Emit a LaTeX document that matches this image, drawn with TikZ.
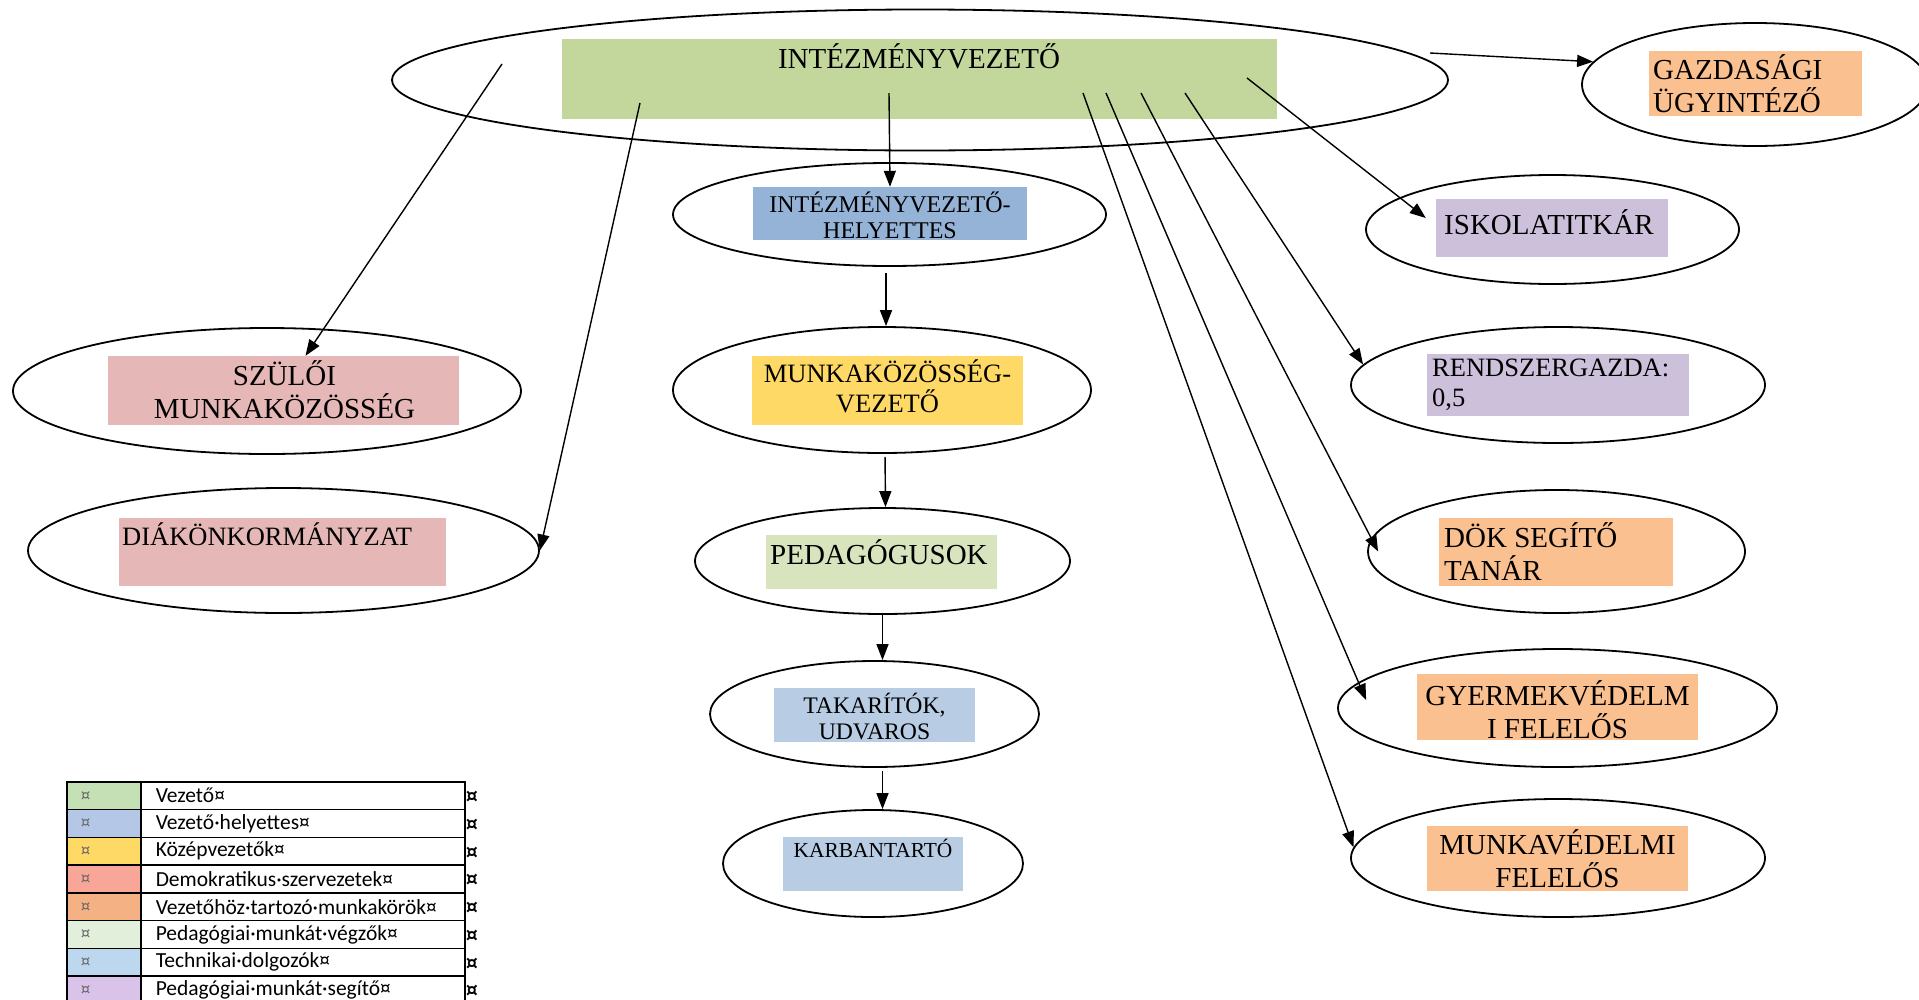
\documentclass[tikz,border=0pt]{standalone}
\usepackage{fontspec}
\setmainfont{Liberation Serif}
\newfontfamily\legendfont{Carlito}
\newfontfamily\markfont{DejaVu Sans}
\usetikzlibrary{arrows.meta,shapes.geometric,calc}
\definecolor{leaf}{HTML}{C3D69B}
\definecolor{steel}{HTML}{95B3D7}
\definecolor{sun}{HTML}{FFD966}
\definecolor{rose}{HTML}{E5B8B7}
\definecolor{peach}{HTML}{FAC08F}
\definecolor{sage}{HTML}{D7E4BD}
\definecolor{mist}{HTML}{B8CCE4}
\definecolor{lilac}{HTML}{CCC0DA}
\definecolor{kLeaf}{HTML}{C5E0B4}
\definecolor{kSteel}{HTML}{B4C7E7}
\definecolor{kSun}{HTML}{FFD966}
\definecolor{kCoral}{HTML}{F8A698}
\definecolor{kPeach}{HTML}{F4B183}
\definecolor{kSage}{HTML}{E2EFDA}
\definecolor{kMist}{HTML}{BDD7EE}
\definecolor{kLilac}{HTML}{D9C3E9}
\tikzset{
  arr/.style={-{Triangle[length=16pt,width=12pt]},line width=1.4pt},
  oval/.style={ellipse,draw,line width=1.8pt,inner sep=0pt},
  card/.style={fill=#1,inner sep=0pt},
  card/.default=leaf,
  txt/.style={inner sep=0pt,align=center},
  big/.style={font=\fontsize{29}{33}\selectfont},
  mid/.style={font=\fontsize{26.5}{30}\selectfont},
  small/.style={font=\fontsize{24}{26}\selectfont},
  swatch/.style={draw,line width=1.5pt,anchor=north west,minimum height=27.75pt,
    inner xsep=14pt,text width=46pt,align=left,text=black!60,
    font=\markfont\fontsize{15}{17}\selectfont},
  entry/.style={draw,line width=1.5pt,anchor=north west,minimum height=27.75pt,
    inner xsep=15pt,text width=294pt,align=left,
    font=\legendfont\fontsize{21.5}{24}\selectfont},
  endmark/.style={inner sep=0pt,font=\markfont\bfseries\fontsize{19}{21}\selectfont},
}
\begin{document}
\begin{tikzpicture}[x=1pt,y=-1pt]
  \useasboundingbox (0,0) rectangle (1919,999);
  % ellipses
  \node[oval,minimum width=1056pt,minimum height=141pt] (topE) at (920,80) {};
  \node[oval,minimum width=346pt,minimum height=123pt] (gzE) at (1755,84.5) {};
  \node[oval,minimum width=433pt,minimum height=103pt] (ihE) at (889.5,214.5) {};
  \node[oval,minimum width=418pt,minimum height=126pt] (muE) at (882,390) {};
  \node[oval,minimum width=375pt,minimum height=106pt] (peE) at (882.5,561) {};
  \node[oval,minimum width=329pt,minimum height=106pt] (taE) at (874.5,714) {};
  \node[oval,minimum width=300pt,minimum height=107pt] (kaE) at (873,863.5) {};
  \node[oval,minimum width=508pt,minimum height=126pt] (szE) at (267,391) {};
  \node[oval,minimum width=511pt,minimum height=125pt] (dkE) at (283.5,550.5) {};
  \node[oval,minimum width=373pt,minimum height=109pt] (isE) at (1552.5,229.5) {};
  \node[oval,minimum width=414pt,minimum height=116pt] (rgE) at (1558,385) {};
  \node[oval,minimum width=377pt,minimum height=123pt] (dtE) at (1556.5,551.5) {};
  \node[oval,minimum width=439pt,minimum height=118pt] (gvE) at (1557.5,708) {};
  \node[oval,minimum width=414pt,minimum height=118pt] (mvE) at (1558,858) {};
  % coloured boxes
  \node[card=leaf,minimum width=715pt,minimum height=80pt] (topL) at (919.5,79) {};
  \node[card=peach,minimum width=213pt,minimum height=65pt] (gzL) at (1755.5,83.5) {};
  \node[card=steel,minimum width=274pt,minimum height=53pt] (ihL) at (890,213.5) {};
  \node[card=sun,minimum width=271pt,minimum height=69pt] (muL) at (887.5,390.5) {};
  \node[card=sage,minimum width=231pt,minimum height=54pt] (peL) at (881.5,562) {};
  \node[card=mist,minimum width=201pt,minimum height=54pt] (taL) at (874.5,715) {};
  \node[card=mist,minimum width=180pt,minimum height=54pt] (kaL) at (873,864) {};
  \node[card=rose,minimum width=351pt,minimum height=69pt] (szL) at (283.5,390.5) {};
  \node[card=rose,minimum width=327pt,minimum height=68pt] (dkL) at (282.5,552) {};
  \node[card=lilac,minimum width=232pt,minimum height=58pt] (isL) at (1552,228) {};
  \node[card=lilac,minimum width=262pt,minimum height=62pt] (rgL) at (1558,385) {};
  \node[card=peach,minimum width=234pt,minimum height=68pt] (dtL) at (1556,552) {};
  \node[card=peach,minimum width=281pt,minimum height=66pt] (gvL) at (1557.5,707) {};
  \node[card=peach,minimum width=261pt,minimum height=65pt] (mvL) at (1557.5,858.5) {};
  % texts
  \node[txt,big] (topT) at (919,56) {INTÉZMÉNYVEZETŐ};
  \node[txt,big,align=left,anchor=west] (gzT) at (1653,83.5) {GAZDASÁGI\\ÜGYINTÉZŐ};
  \node[txt,small] (ihT) at (890,215) {INTÉZMÉNYVEZETŐ-\\HELYETTES};
  \node[txt,mid] (muT) at (887.5,386.5) {MUNKAKÖZÖSSÉG-\\VEZETŐ};
  \node[txt,big,anchor=west] (peT) at (770,552) {PEDAGÓGUSOK};
  \node[txt,font=\fontsize{23.7}{26}\selectfont] (taT) at (874.5,716) {TAKARÍTÓK,\\UDVAROS};
  \node[txt,font=\fontsize{21.4}{24}\selectfont] (kaT) at (873,848) {KARBANTARTÓ};
  \node[txt,big] (szT) at (284.5,389.5) {SZÜLŐI\\MUNKAKÖZÖSSÉG};
  \node[txt,mid,anchor=west] (dkT) at (122,534) {DIÁKÖNKORMÁNYZAT};
  \node[txt,big,anchor=west] (isT) at (1444,222) {ISKOLATITKÁR};
  \node[txt,mid,align=left,anchor=west] (rgT) at (1432,385) {RENDSZERGAZDA:\\0,5};
  \node[txt,big,align=left,anchor=west] (dtT) at (1444,551.5) {DÖK SEGÍTŐ\\TANÁR};
  \node[txt,big] (gvT) at (1557.5,709.5) {GYERMEKVÉDELM\\I FELELŐS};
  \node[txt,big] (mvT) at (1557.5,858.5) {MUNKAVÉDELMI\\FELELŐS};
  % arrows
  \coordinate (fromSz) at (502,64);
  \coordinate (fromDk) at (640,103);
  \coordinate (fromIh) at (889,93);
  \coordinate (fromGz) at (1430,53);
  \coordinate (fromIs) at (1247,78);
  \coordinate (fromRg) at (1185,93);
  \coordinate (fromDt) at (1141,93);
  \coordinate (fromGv) at (1106,93);
  \coordinate (fromMv) at (1083,93);
  \draw[arr] (fromSz) -- ([xshift=22pt]szL.north);
  \draw[arr] (fromDk) -- (dkE.east);
  \draw[arr] (fromIh) -- (ihL.north);
  \draw[arr] (fromGz) -- (gzE.172);
  \draw[arr] (fromIs) -- ([shift={(-10,-10)}]isL.west);
  \draw[arr] (fromRg) -- (rgE.174);
  \draw[arr] (fromDt) -- ([xshift=11pt]dtE.west);
  \draw[arr] (fromGv) -- ([shift={(29,-8)}]gvE.west);
  \draw[arr] (fromMv) -- (mvE.177);
  \draw[arr,shorten <=6pt] ([xshift=4pt]muE.north |- ihE.south) -- ([xshift=4pt]muE.north);
  \draw[arr,shorten <=3pt] ([xshift=3pt]muE.south) -- ([xshift=3pt]peE.north);
  \draw[arr] (peE.south) -- (peE.south |- taE.north);
  \draw[arr,shorten <=3pt] (peE.south |- taE.south) -- (peE.south |- kaE.north);
  % legend
  \foreach \c/\t [count=\i from 0] in {kLeaf/Vezető¤,kSteel/Vezető·helyettes¤,
      kSun/Középvezetők¤,kCoral/Demokratikus·szervezetek¤,
      kPeach/Vezetőhöz·tartozó·munkakörök¤,kSage/Pedagógiai·munkát·végzők¤,
      kMist/Technikai·dolgozók¤,kLilac/Pedagógiai·munkát·segítő¤} {
    \node[swatch,fill=\c] (sw\i) at (66,781+27.75*\i) {¤};
    \node[entry] (en\i) at (140,781+27.75*\i) {\t};
    \node[endmark] (em\i) at (472,797+27.75*\i) {¤};
  }
\end{tikzpicture}
\end{document}
